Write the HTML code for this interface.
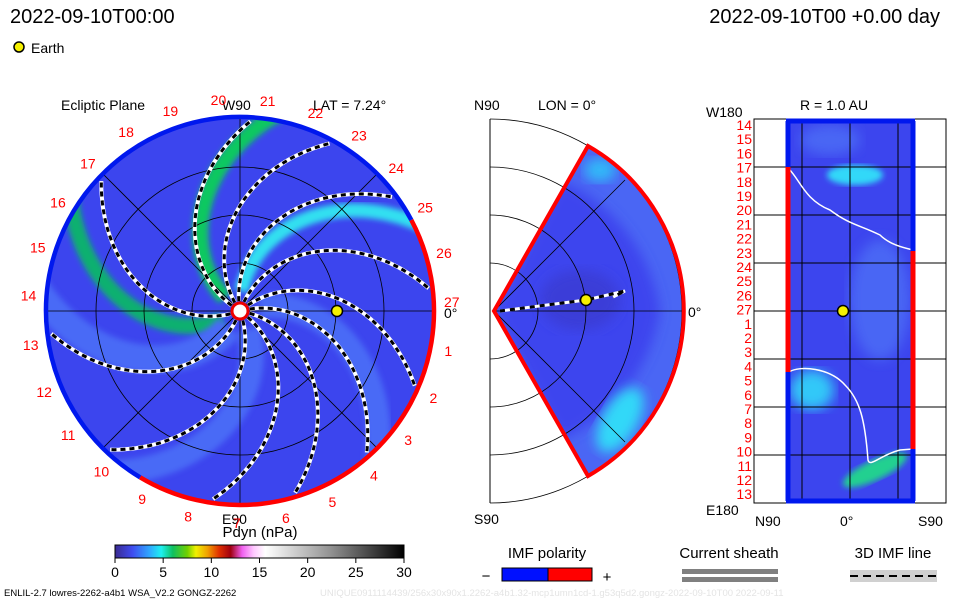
<!DOCTYPE html>
<html><head><meta charset="utf-8"><style>
html,body{margin:0;padding:0;background:#fff;}
svg{display:block;font-family:"Liberation Sans",sans-serif;}
</style></head><body>
<svg id="chart" width="960" height="600" viewBox="0 0 960 600" xmlns="http://www.w3.org/2000/svg">
<defs>
<linearGradient id="cbar" x1="0" x2="1" y1="0" y2="0">
<stop offset="0" stop-color="#3a2a90"/><stop offset="0.06" stop-color="#3f4cf0"/><stop offset="0.12" stop-color="#2fa8ff"/><stop offset="0.16" stop-color="#1ef0f0"/><stop offset="0.2" stop-color="#0fc060"/><stop offset="0.25" stop-color="#70d000"/><stop offset="0.28" stop-color="#f0f000"/><stop offset="0.32" stop-color="#f0a000"/><stop offset="0.36" stop-color="#e03000"/><stop offset="0.4" stop-color="#a00010"/><stop offset="0.44" stop-color="#f060f0"/><stop offset="0.48" stop-color="#ffc8ff"/><stop offset="0.52" stop-color="#ffffff"/><stop offset="0.75" stop-color="#909090"/><stop offset="1" stop-color="#000"/>
</linearGradient>
<clipPath id="diskClip"><circle cx="240" cy="311" r="194"/></clipPath>
<clipPath id="wedgeClip"><path d="M494,311 L588,148 A188,188 0 0 1 588,474 Z"/></clipPath>
<clipPath id="rectClip"><rect x="786" y="120" width="129" height="382"/></clipPath>
<filter id="blur6"><feGaussianBlur stdDeviation="6"/></filter>
<filter id="blur3"><feGaussianBlur stdDeviation="3"/></filter>
</defs>

<text x="10" y="23" font-size="20" fill="#000">2022-09-10T00:00</text>
<text x="940" y="23" font-size="20" fill="#000" text-anchor="end">2022-09-10T00 +0.00 day</text>
<circle cx="19" cy="47" r="5" fill="#f5f000" stroke="#000" stroke-width="1.5"/>
<text x="31" y="53" font-size="14">Earth</text>

<g id="left">
<text x="61" y="110" font-size="14">Ecliptic Plane</text>
<text x="313" y="110" font-size="14">LAT = 7.24°</text>
<text x="222" y="110" font-size="14">W90</text>
<text x="222" y="524" font-size="14">E90</text>
<text x="444" y="318" font-size="14">0°</text>
<g clip-path="url(#diskClip)">
<circle cx="240" cy="311" r="194" fill="#3c45ee"/>
<g id="bands"></g>
</g>
<g id="leftGrid"></g>
<g id="spirals"></g>
<g id="ring"></g>
<g id="leftLabels"></g>
<circle cx="240" cy="311" r="8" fill="#fff" stroke="#e00" stroke-width="3"/>
<circle cx="337" cy="311" r="5.5" fill="#f5f000" stroke="#000" stroke-width="1.5"/>
</g>

<g id="mid">
<text x="474" y="110" font-size="14">N90</text>
<text x="538" y="110" font-size="14">LON = 0°</text>
<text x="474" y="524" font-size="14">S90</text>
<text x="688" y="317" font-size="14">0°</text>
<g clip-path="url(#wedgeClip)">
<rect x="480" y="130" width="220" height="360" fill="#4a66f4"/>
<path d="M494,311 L560,180 A170,170 0 0 1 660,311 A170,170 0 0 1 560,440 Z" fill="#3c45ee" filter="url(#blur6)"/>
<ellipse cx="620" cy="420" rx="18" ry="36" fill="#30d8f8" filter="url(#blur6)" transform="rotate(30 620 420)"/>
<ellipse cx="600" cy="170" rx="16" ry="12" fill="#30b8f8" filter="url(#blur6)"/>
<ellipse cx="580" cy="300" rx="40" ry="30" fill="#3a3cd8" filter="url(#blur6)"/>
</g>
<g id="midGrid"></g>
<path d="M494,311 L588,146 A190,190 0 0 1 588,476 Z" fill="none" stroke="#f00" stroke-width="4"/>
<path d="M500,311 L586,300 L625,291 L613,297" fill="none" stroke="#fff" stroke-width="3"/>
<path d="M500,311 L586,300 L625,291 L613,297" fill="none" stroke="#000" stroke-width="3" stroke-dasharray="5 5"/>
<circle cx="586" cy="300" r="5.5" fill="#f5f000" stroke="#000" stroke-width="1.5"/>
</g>

<g id="right">
<text x="800" y="110" font-size="14">R = 1.0 AU</text>
<text x="706" y="117" font-size="14">W180</text>
<text x="706" y="515" font-size="14">E180</text>
<text x="755" y="526" font-size="14">N90</text>
<text x="840" y="526" font-size="14">0°</text>
<text x="918" y="526" font-size="14">S90</text>
<g clip-path="url(#rectClip)">
<rect x="786" y="118" width="129" height="386" fill="#3c45ee"/>
<ellipse cx="855" cy="175" rx="28" ry="10" fill="#30d8f8" filter="url(#blur3)"/>
<ellipse cx="812" cy="390" rx="22" ry="20" fill="#30c8f8" filter="url(#blur6)"/>
<ellipse cx="875" cy="470" rx="35" ry="10" fill="#20d090" filter="url(#blur3)" transform="rotate(-25 875 470)"/>
<ellipse cx="880" cy="300" rx="30" ry="60" fill="#4a66f4" filter="url(#blur6)"/>
<ellipse cx="830" cy="140" rx="30" ry="15" fill="#4a66f4" filter="url(#blur6)"/>
</g>
<rect x="754" y="119" width="192" height="384" fill="none" stroke="#000" stroke-width="1"/>
<g id="rightGrid"></g>
<path d="M789,169 C800,180 805,200 830,210 C850,225 860,225 880,235 C890,245 905,248 913,250" fill="none" stroke="#fff" stroke-width="1.5"/>
<path d="M789,372 C800,365 830,368 845,385 C860,400 865,420 868,460 C870,468 880,455 900,450 L913,449" fill="none" stroke="#fff" stroke-width="1.5"/>
<line x1="788" y1="121" x2="788" y2="501" stroke="#0018ee" stroke-width="5"/>
<line x1="788" y1="167" x2="788" y2="372" stroke="#f00" stroke-width="5"/>
<line x1="913" y1="121" x2="913" y2="501" stroke="#0018ee" stroke-width="5"/>
<line x1="913" y1="251" x2="913" y2="449" stroke="#f00" stroke-width="5"/>
<line x1="786" y1="121" x2="915" y2="121" stroke="#0018ee" stroke-width="5"/>
<line x1="786" y1="501" x2="915" y2="501" stroke="#0018ee" stroke-width="5"/>
<circle cx="843" cy="311" r="5.5" fill="#f5f000" stroke="#000" stroke-width="1.5"/>
<g id="rightLabels"></g>
</g>

<g>
<text x="260" y="537" font-size="15" text-anchor="middle">Pdyn (nPa)</text>
<rect x="115" y="545" width="289" height="13" fill="url(#cbar)" stroke="#000" stroke-width="1"/>
<g id="cbTicks"></g>
</g>

<g>
<text x="547" y="558" font-size="15" text-anchor="middle">IMF polarity</text>
<text x="486" y="581" font-size="15" text-anchor="middle">−</text>
<rect x="502" y="568" width="46" height="13" fill="#0010ff" stroke="#000"/>
<rect x="548" y="568" width="44" height="13" fill="#f00" stroke="#000"/>
<text x="607" y="582" font-size="15" text-anchor="middle">+</text>
</g>
<g>
<text x="729" y="558" font-size="15" text-anchor="middle">Current sheath</text>
<rect x="682" y="569" width="96" height="5" fill="#808080"/>
<rect x="682" y="577" width="96" height="5" fill="#808080"/>
</g>
<g>
<text x="893" y="558" font-size="15" text-anchor="middle">3D IMF line</text>
<rect x="850" y="570" width="87" height="12" fill="#d0d0d0"/>
<line x1="850" y1="576" x2="937" y2="576" stroke="#000" stroke-width="2" stroke-dasharray="8 5"/>
</g>
<text x="4" y="596" font-size="9.5">ENLIL-2.7 lowres-2262-a4b1 WSA_V2.2 GONGZ-2262</text>
<text x="320" y="596" font-size="9.5" fill="#e4e4e4">UNIQUE0911114439/256x30x90x1.2262-a4b1.32-mcp1umn1cd-1.g53q5d2.gongz-2022-09-10T00   2022-09-11</text>
</svg>
<script>
const NS="http://www.w3.org/2000/svg";
const cx=240, cy=311, R=194;
// spiral field lines: starting screen angle (deg) at sun
const spiralStarts=[-150,-125,-100,-70,-40,-15,10,35,70,110,160];
const spiralWinding=[0.0058,0.0058,0.0058,0.0058,0.0058,0.0058,0.0058,0.0058,0.0058,0.0058,0.0058];
// density bands: start angle (deg), color, width
const bandStarts=[-146,-92,146,118,60,-20];
const bandColors=["#10c860","#30e0f0","#10b070","#4a6af6","#4a6af6","#4a6af6"];
const bandWidths=[16,14,16,28,24,24];
const sectorLabels=["1","2","3","4","5","6","7","8","9","10","11","12","13","14","15","16","17","18","19","20","21","22","23","24","25","26","27"];
const cbTickVals=[0,5,10,15,20,25,30];
const rightLabels=["14","15","16","17","18","19","20","21","22","23","24","25","26","27","1","2","3","4","5","6","7","8","9","10","11","12","13"];

function el(t,a,p){const e=document.createElementNS(NS,t);for(const k in a)e.setAttribute(k,a[k]);p.appendChild(e);return e;}
function spiralPath(a0,k,r0,r1){let d="";for(let r=r0;r<=r1;r+=3){const th=a0*Math.PI/180+k*r;const x=cx+r*Math.cos(th),y=cy+r*Math.sin(th);d+=(d?"L":"M")+x.toFixed(1)+","+y.toFixed(1);}return d;}

const bands=document.getElementById("bands");
bandStarts.forEach((a,i)=>{
  const p=el("path",{d:spiralPath(a,0.0058,20,260),fill:"none",stroke:bandColors[i],"stroke-width":bandWidths[i],filter:"url(#blur3)"},bands);
  
  
});

const grid=document.getElementById("leftGrid");
[48,96,144].forEach(r=>{const c=el("circle",{cx:cx,cy:cy,r:r,fill:"none",stroke:"#000","stroke-width":0.8},grid);

});
[0,45,90,135].forEach(a=>{const t=a*Math.PI/180;const l=el("line",{x1:cx-R*Math.cos(t),y1:cy-R*Math.sin(t),x2:cx+R*Math.cos(t),y2:cy+R*Math.sin(t),stroke:"#000","stroke-width":0.8},grid);

});

const sp=document.getElementById("spirals");
spiralStarts.forEach((a,i)=>{
  const d=spiralPath(a,spiralWinding[i],10,192);
  const w=el("path",{d:d,fill:"none",stroke:"#fff","stroke-width":4},sp);
  
  
  const b=el("path",{d:d,fill:"none",stroke:"#000","stroke-width":3,"stroke-dasharray":"5 4"},sp);
  
  
});

const ring=document.getElementById("ring");
function arc(a0,a1,col){const t0=a0*Math.PI/180,t1=a1*Math.PI/180;const large=((a1-a0+360)%360)>180?1:0;
 const p=el("path",{d:`M${cx+R*Math.cos(t0)},${cy+R*Math.sin(t0)} A${R},${R} 0 ${large} 1 ${cx+R*Math.cos(t1)},${cy+R*Math.sin(t1)}`,fill:"none",stroke:col,"stroke-width":4.5},ring);
 
 }
arc(-28,121,"#f00");arc(121,332,"#0018ee");

const ll=document.getElementById("leftLabels");
sectorLabels.forEach((s,i)=>{const a=((i+1)*360/27-2.5)*Math.PI/180;const rr=212;
 const t=el("text",{x:cx+rr*Math.cos(a),y:cy+rr*Math.sin(a)+5,"font-size":14,fill:"#f00","text-anchor":"middle"},ll);t.textContent=s;
 
 });

const mg=document.getElementById("midGrid");
[48,96,144,192].forEach(r=>{const p=el("path",{d:`M490,${311-r} A${r},${r} 0 0 1 490,${311+r}`,fill:"none",stroke:"#000","stroke-width":0.8},mg);
 
 });
const ax=el("line",{x1:490,y1:119,x2:490,y2:503,stroke:"#000","stroke-width":1},mg);


[[494,311,682,311],[494,311,625,180],[494,311,625,442]].forEach(c=>{const l=el("line",{x1:c[0],y1:c[1],x2:c[2],y2:c[3],stroke:"#000","stroke-width":0.8},mg);
 
 });

const rg=document.getElementById("rightGrid");
[167,215,263,311,359,407,455].forEach(y=>{const l=el("line",{x1:754,y1:y,x2:946,y2:y,stroke:"#000","stroke-width":1},rg);
 
 });
[802,850,898].forEach(x=>{const l=el("line",{x1:x,y1:119,x2:x,y2:503,stroke:"#000","stroke-width":1},rg);
 
 });

const rl=document.getElementById("rightLabels");
rightLabels.forEach((s,i)=>{const t=el("text",{x:752,y:130+i*14.2,"font-size":14,fill:"#f00","text-anchor":"end"},rl);t.textContent=s;
 
 });

const cb=document.getElementById("cbTicks");
cbTickVals.forEach(v=>{const x=115+v/30*289;
 const l=el("line",{x1:x,y1:558,x2:x,y2:563,stroke:"#000"},cb);
 
 
 const t=el("text",{x:x,y:577,"font-size":14,"text-anchor":"middle"},cb);t.textContent=v;
 
 });
</script>
</body></html>
